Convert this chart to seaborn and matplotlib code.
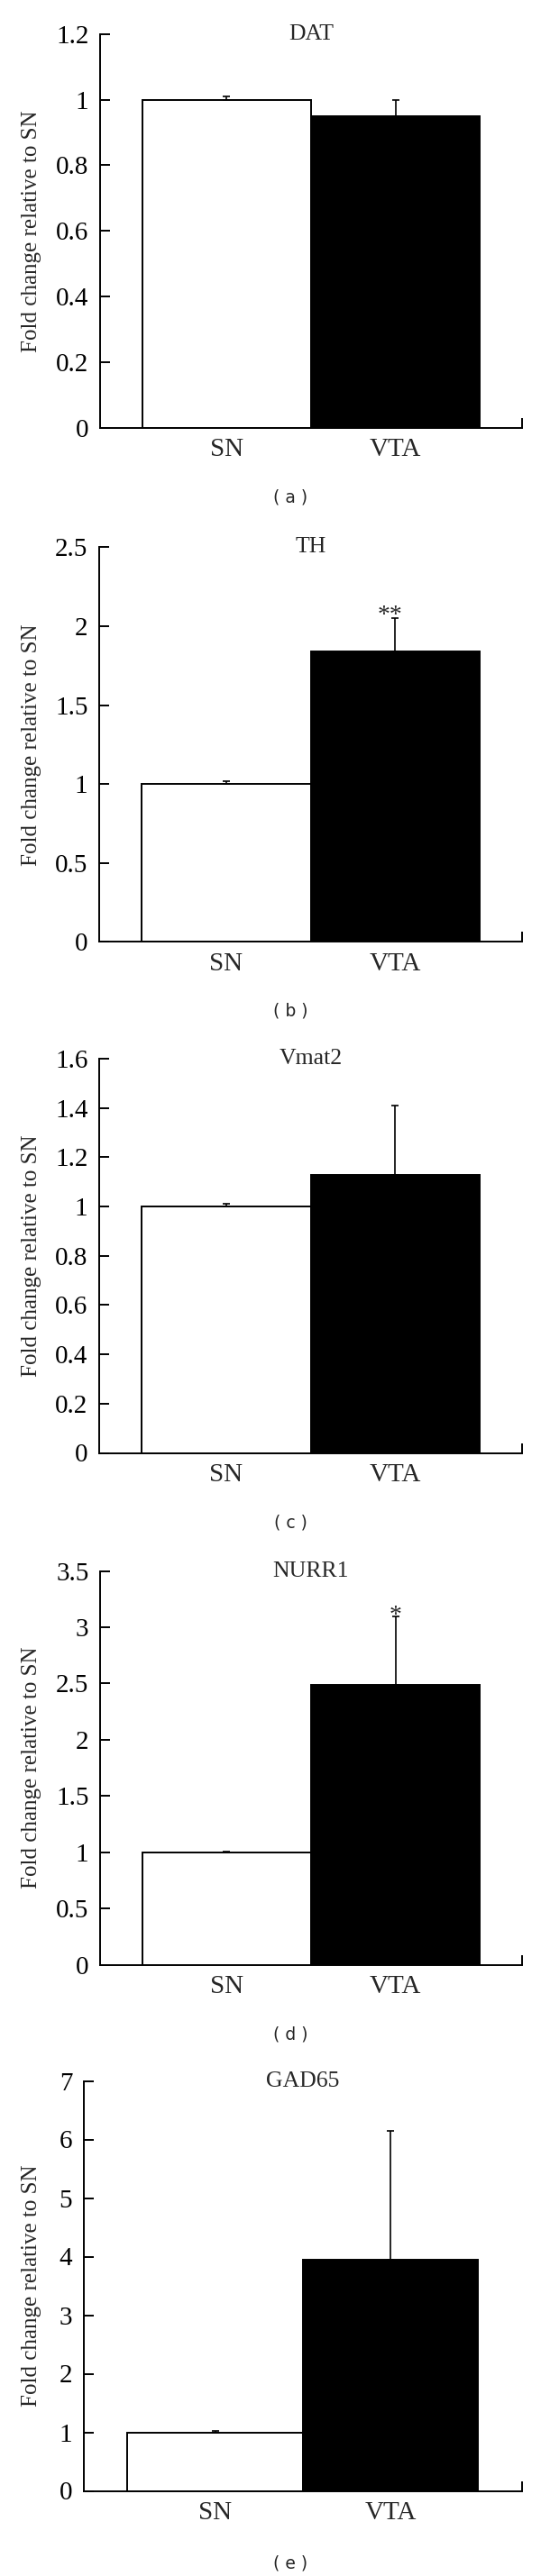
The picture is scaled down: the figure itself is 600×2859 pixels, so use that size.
import numpy as np
import pandas as pd
import seaborn as sns
import matplotlib
matplotlib.use("Agg")
from matplotlib import pyplot as plt

# data
genes = ["DAT", "TH", "Vmat2", "NURR1", "GAD65"]
regions = ["SN", "VTA"]
sn_mean = [1.0, 1.0, 1.0, 1.0, 1.0]
sn_err = [0.01, 0.017, 0.011, 0.005, 0.03]
vta_mean = [0.95, 1.84, 1.13, 2.485, 3.95]
vta_err = [0.05, 0.21, 0.28, 0.615, 2.2]
sig_marks = ["", "**", "", "*", ""]
y_max = [1.2, 2.5, 1.6, 3.5, 7]
y_step = [0.2, 0.5, 0.2, 0.5, 1]
captions = ["( a )", "( b )", "( c )", "( d )", "( e )"]

# layout in pixels of the 600x2859 page
W, H = 600, 2859
tops = [37.7, 607.3, 1175, 1743.6, 2309.5]
bottoms = [475, 1045.4, 1612.5, 2180.6, 2764.5]
lefts = [111, 110, 110, 111, 92.7]
right = 579
caption_y = [552, 1122, 1690, 2258, 2845]
star_pos = [None, (0.97, 2.03), None, (1.0, 3.05), None]

sns.set_style("white")
plt.rcParams["font.family"] = ["Liberation Serif", "DejaVu Serif"]

fig = plt.figure(figsize=(W / 100, H / 100), dpi=100)

for i, gene in enumerate(genes):
    ax = fig.add_axes([lefts[i] / W, 1 - bottoms[i] / H,
                       (right - lefts[i]) / W, (bottoms[i] - tops[i]) / H])
    df = pd.DataFrame({"region": regions,
                       "fold": [sn_mean[i], vta_mean[i]],
                       "err": [sn_err[i], vta_err[i]]})
    sns.barplot(data=df, x="region", y="fold", hue="region",
                palette=["white", "black"], edgecolor="black", linewidth=1.4,
                width=1.0, errorbar=None, legend=False, ax=ax)
    # upper-only error bars
    ax.errorbar(x=[0, 1], y=df["fold"], yerr=[np.zeros(2), df["err"]],
                fmt="none", ecolor="black", elinewidth=1.2, capsize=3,
                capthick=1.2, zorder=3)

    ax.set_xlim(-0.75, 1.75)
    ax.set_ylim(0, y_max[i])
    ticks = np.round(np.arange(0, y_max[i] + y_step[i] / 2, y_step[i]), 2)
    ax.set_yticks(ticks)
    ax.set_yticklabels([f"{t:g}" for t in ticks])
    ax.tick_params(axis="y", direction="in", length=8, width=1.4, left=True,
                   labelsize=21, pad=9, colors="black")
    ax.set_xticks([0.5, 1.75], minor=True)
    ax.tick_params(axis="x", which="major", length=0, labelsize=21, pad=8)
    ax.tick_params(axis="x", which="minor", direction="in", length=8,
                   width=1.4, bottom=True, color="black")

    for s in ["top", "right"]:
        ax.spines[s].set_visible(False)
    for s in ["left", "bottom"]:
        ax.spines[s].set_color("black")
        ax.spines[s].set_linewidth(1.4)

    ax.set_xlabel("")
    ax.set_ylabel("Fold change relative to SN", fontsize=18)
    ax.yaxis.set_label_coords((46 - lefts[i]) / (right - lefts[i]), 0.5)

    ax.text(0.5, 1.0, gene, transform=ax.transAxes, ha="center", va="center",
            fontsize=18.5)
    if sig_marks[i]:
        sx, sy = star_pos[i]
        ax.text(sx, sy, sig_marks[i], ha="center", va="baseline", fontsize=20)

    fig.text(322 / W, 1 - caption_y[i] / H, captions[i], ha="center",
             va="center", fontsize=13.5, family="DejaVu Sans")

fig.savefig("out.png", dpi=100)
